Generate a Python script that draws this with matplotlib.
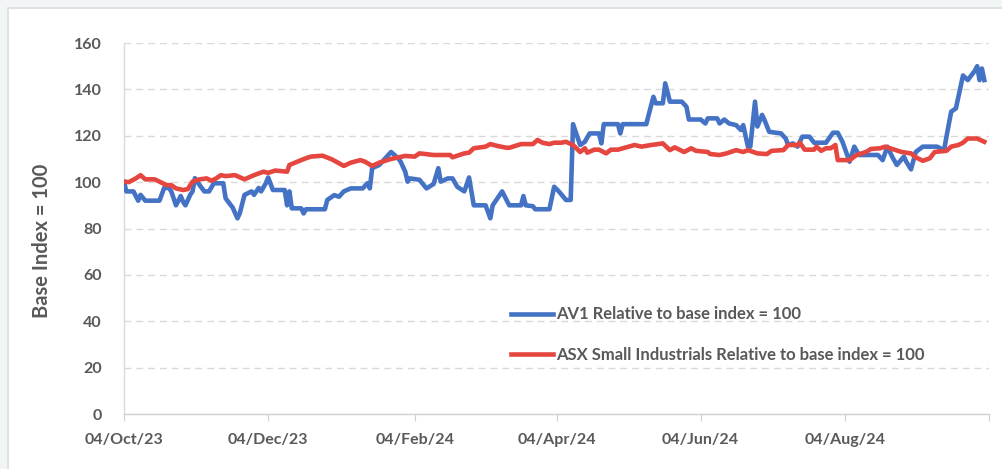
import datetime as dt
import matplotlib
matplotlib.use("Agg")
import matplotlib.pyplot as plt
from matplotlib.patches import Rectangle

# days since 04/Oct/23 and index values (base = 100)
av1_days = [0, 1, 4, 6, 7, 9, 15, 17, 19, 20, 22, 24, 25, 26, 28, 29, 30, 32, 34, 36,
            38, 42, 43, 46, 48, 49, 51, 54, 55, 57, 58, 60, 61, 63, 68, 69, 70, 71, 75, 76,
            77, 85, 86, 89, 91, 93, 96, 101, 103, 104, 105, 108, 113, 116, 117, 119, 120, 121, 125, 128,
            131, 133, 134, 137, 139, 141, 144, 146, 148, 153, 155, 156, 160, 163, 168, 169, 170, 173, 174, 180,
            182, 184, 187, 189, 190, 193, 195, 197, 201, 202, 203, 209, 210, 211, 221, 222, 224, 225, 228, 229,
            231, 236, 238, 239, 244, 246, 247, 251, 252, 254, 256, 259, 261, 262, 264, 265, 267, 268, 270, 271,
            273, 278, 280, 281, 283, 285, 287, 290, 292, 297, 300, 302, 304, 306, 307, 309, 311, 319, 321, 323,
            325, 327, 330, 331, 333, 335, 338, 344, 347, 348, 350, 352, 355, 357, 360, 361, 362, 363, 364]
av1_vals = [100, 96, 96, 92, 94.5, 92, 92, 97.5, 97.5, 96, 90, 94, 91.5, 90, 94.5, 96, 101.7, 98.7, 96, 96,
            99.5, 99.5, 93, 89, 84.4, 86.6, 94.5, 96, 94.5, 97.5, 96, 99.5, 102, 96.6, 96.6, 90, 96, 88.7, 88.7, 86.5,
            88.3, 88.3, 92.3, 94.4, 93.7, 96, 97.3, 97.3, 99.5, 97.3, 106, 107.4, 113, 110.3, 108.9, 104.5, 100.2, 101.6, 101, 97.3,
            99.2, 106, 100.2, 101.6, 101.6, 98, 96, 102, 90, 90, 84.4, 90, 96, 90, 90, 94, 90, 89.6, 88.3, 88.3,
            98, 96, 92.3, 92.3, 125, 116, 117.4, 121, 121, 116.7, 125, 125, 121, 125, 125, 129, 136.8, 134, 134, 142.6,
            134.7, 134.7, 132.5, 127, 127, 125.3, 127.5, 127.5, 125.3, 127, 125.3, 124.6, 122.5, 124.6, 115.3, 115.3, 134.7, 124, 129, 126.8,
            121.7, 121, 118.8, 116, 116.7, 115.3, 119.6, 119.6, 117, 117, 121.3, 121.3, 117.4, 111.7, 108.8, 115.3, 111.7, 111.7, 109.5, 115.3,
            111, 107.4, 111, 108.8, 105.5, 113, 115.3, 115.3, 113.8, 119.6, 130.4, 131.8, 146, 144, 148, 150, 144, 149, 144]

asx_days = [0, 2, 5, 7, 9, 13, 15, 18, 20, 22, 25, 27, 29, 32, 35, 37, 39, 41, 43, 47,
            51, 55, 59, 61, 64, 69, 70, 75, 77, 79, 84, 88, 93, 96, 100, 102, 105, 108, 113, 119,
            123, 125, 131, 138, 139, 144, 146, 148, 153, 155, 158, 162, 163, 168, 173, 175, 177, 180, 182, 185,
            187, 190, 193, 195, 196, 199, 201, 204, 206, 209, 216, 219, 223, 228, 231, 233, 237, 240, 242, 247,
            248, 252, 255, 259, 262, 264, 268, 272, 274, 279, 281, 285, 286, 288, 292, 293, 295, 297, 299, 301,
            302, 306, 307, 310, 314, 316, 320, 322, 326, 329, 333, 335, 338, 341, 343, 348, 350, 353, 355, 357,
            361, 364]
asx_vals = [100.2, 100, 101.6, 103, 101.2, 101.2, 100.2, 98.7, 98.7, 97.3, 96.6, 97, 100.2, 101.2, 101.6, 100.6, 101.6, 103, 102.6, 103,
            101.2, 103, 104.5, 104, 105, 104.5, 107.4, 109.5, 110.3, 111, 111.4, 109.8, 107, 108.4, 109.5, 108.8, 107, 108.4, 110, 111.3,
            111, 112.4, 111.7, 111.7, 110.7, 112.4, 112.7, 114.6, 115.3, 116.4, 115.6, 114.8, 114.8, 116.4, 116.4, 118.2, 117, 116.4, 117, 117,
            117.4, 116, 113, 114.6, 112.7, 114, 114, 112.4, 114, 114, 116, 115.3, 116, 116.7, 113.8, 115, 113, 114.6, 113.5, 113,
            112.1, 111.7, 112.4, 113.8, 113, 113.8, 112.4, 112.1, 113.5, 113.8, 116, 116, 117, 114, 114, 115.3, 113.5, 114.6, 114.6, 116,
            109.5, 109.5, 109.5, 111.7, 113, 114.3, 114.6, 115.3, 114, 113, 112.4, 110.7, 109.2, 110.3, 113, 113.5, 115.3, 116, 117, 118.8,
            118.8, 117.4]

base_date = dt.date(2023, 10, 4)
tick_dates = ["2023-10-04", "2023-12-04", "2024-02-04", "2024-04-04", "2024-06-04", "2024-08-04", "2024-10-04"]
tick_labels = ["04/Oct/23", "04/Dec/23", "04/Feb/24", "04/Apr/24", "04/Jun/24", "04/Aug/24", ""]
y_ticks = [0, 20, 40, 60, 80, 100, 120, 140, 160]

av1_x = [base_date + dt.timedelta(days=d) for d in av1_days]
asx_x = [base_date + dt.timedelta(days=d) for d in asx_days]
ticks = [dt.date.fromisoformat(t) for t in tick_dates]

font = "Lato"
grey_txt = "#595959"

fig = plt.figure(figsize=(10.02, 4.69), dpi=100)
fig.patch.set_facecolor("#f2f5f5")
fig.add_artist(Rectangle((8 / 1002, -0.1), 1.1, 1 - 8 / 469 + 0.1, transform=fig.transFigure,
                         facecolor="white", edgecolor="#dcdcdc", linewidth=1.2, zorder=0))

ax = fig.add_axes([124 / 1002, 1 - 414 / 469, (989 - 124) / 1002, (414 - 43) / 469])
ax.set_facecolor("none")

ax.plot(av1_x, av1_vals, color="#4472C4", lw=3.3, label="AV1 Relative to base index = 100",
        solid_joinstyle="round", zorder=3)
ax.plot(asx_x, asx_vals, color="#E5463F", lw=3.3, label="ASX Small Industrials Relative to base index = 100",
        solid_joinstyle="round", zorder=3)

ax.set_xlim(ticks[0], ticks[-1])
ax.set_ylim(0, 160)
ax.set_yticks(y_ticks)
ax.set_xticks(ticks)
ax.set_xticklabels(tick_labels)

for t in y_ticks[1:]:
    ax.axhline(t, color="#d9d9d9", lw=1.0, ls=(0, (5, 3.5)), zorder=1)

for s in ["top", "right"]:
    ax.spines[s].set_visible(False)
ax.spines["left"].set_color("#d9d9d9")
ax.spines["bottom"].set_color("#d0d0d0")
ax.spines["left"].set_linewidth(1.0)
ax.spines["bottom"].set_linewidth(1.0)

ax.tick_params(axis="y", length=0, pad=16, labelsize=11.5, labelcolor=grey_txt)
ax.tick_params(axis="x", length=5, color="#d0d0d0", pad=9, labelsize=11.5, labelcolor=grey_txt)
for lab in ax.get_xticklabels() + ax.get_yticklabels():
    lab.set_fontfamily(font)
    lab.set_fontweight("bold")

fig.text(42 / 1002, 1 - 241 / 469, "Base Index = 100", rotation=90, ha="center", va="center",
         fontsize=14.5, fontweight="bold", color=grey_txt, family=font)

leg = ax.legend(loc="center left", bbox_to_anchor=(503 / 1002, 1 - 334.5 / 469),
                bbox_transform=fig.transFigure, frameon=False, handlelength=2.5,
                handletextpad=0.2, labelspacing=1.45, borderpad=0,
                prop={"family": font, "weight": "bold", "size": 12})
for txt in leg.get_texts():
    txt.set_color(grey_txt)

fig.savefig("out.png", dpi=100)
